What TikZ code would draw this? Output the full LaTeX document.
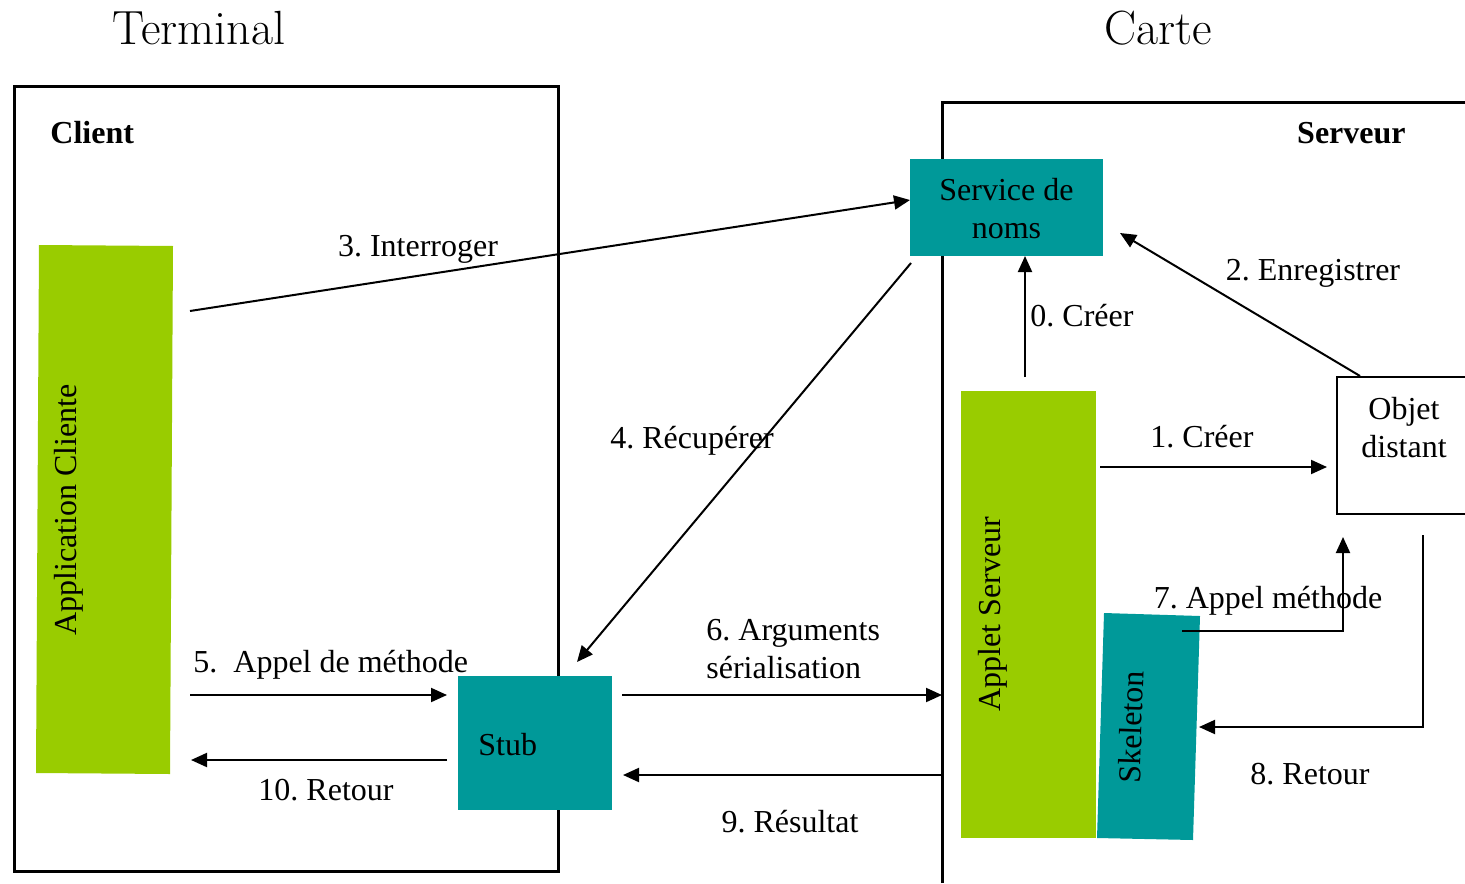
\documentclass[tikz,border=0pt]{standalone}
\usepackage{fontspec}
\setmainfont{Liberation Serif}
\newfontfamily\titlefont{Latin Modern Roman}
\usetikzlibrary{arrows.meta}
\frenchspacing
\definecolor{limegreen}{HTML}{99CC00}
\definecolor{tealbox}{HTML}{009999}
\tikzset{
  body/.style={font=\fontsize{16}{19}\selectfont, inner sep=0pt},
  hdr/.style={font=\fontsize{16}{19}\selectfont\bfseries, inner sep=0pt},
  bigtitle/.style={font=\titlefont\fontsize{24}{28}\selectfont, inner sep=0pt},
  frame/.style={line width=1.5pt},
  conn/.style={line width=1pt, -{Triangle[length=8pt,width=7pt]}},
  wire/.style={line width=1pt},
  tealrect/.style={fill=tealbox, draw=none, inner sep=0pt},
}
\begin{document}
\begin{tikzpicture}[x=0.5pt,y=-0.5pt]
\useasboundingbox (0,0) rectangle (1465,883);

% Titles
\node[bigtitle] (tterm) at (199,28) {Terminal};
\node[bigtitle] (tcarte) at (1158,28) {Carte};

% Client and server frames
\draw[frame] (14,87) rectangle (558,871);
\draw[frame] (942,883) -- (942,103) -- (1465,103);
\node[hdr, anchor=west] (client) at (50,133) {Client};
\node[hdr, anchor=east] (serveur) at (1406,133) {Serveur};

% Coloured blocks
\fill[limegreen] (39,245) -- (173,246) -- (170,774) -- (36,773) -- cycle;
\node[body, rotate=90] (appcli) at (69,510) {Application Cliente};

\node[tealrect, minimum width=96.5pt, minimum height=48.5pt] (svc) at (1006.5,207.5) {};
\node[body, align=center] (svctxt) at (1006.5,209) {Service de\\noms};

\node[tealrect, minimum width=77pt, minimum height=67pt] (stub) at (535,743) {};
\node[body, anchor=west] (stubtxt) at (478,745) {Stub};

\node[fill=limegreen, inner sep=0pt, minimum width=67.5pt,
      minimum height=223.5pt] (applet) at (1028.5,614.5) {};
\node[body, rotate=90] (applettxt) at (993,614) {Applet Serveur};

\fill[tealbox] (1104,613) -- (1200,616) -- (1193,840) -- (1097,838) -- cycle;
\node[body, rotate=88.2] (skel) at (1131,727) {Skeleton};

% Remote object box (runs past the right edge)
\draw[wire] (1465,377) -- (1337,377) -- (1337,514) -- (1465,514);
\node[body, align=center] (objet) at (1404,428) {Objet\\distant};

% Connector end points
\coordinate (p3a) at (190,311);  \coordinate (p3b) at (910,200);
\coordinate (p4a) at (911,263);  \coordinate (p4b) at (577,662);
\coordinate (p0a) at (1025,377); \coordinate (p0b) at (1025,256);
\coordinate (p2a) at (1360,376); \coordinate (p2b) at (1120,233);
\coordinate (p1a) at (1100,467); \coordinate (p1b) at (1327,467);
\coordinate (p5a) at (190,695);  \coordinate (p5b) at (447,695);
\coordinate (p10a) at (447,760); \coordinate (p10b) at (191,760);
\coordinate (p6a) at (622,695);  \coordinate (p6b) at (942,695);
\coordinate (p9a) at (942,775);  \coordinate (p9b) at (623,775);
\coordinate (p7a) at (1182,631); \coordinate (p7b) at (1343,537);
\coordinate (p8a) at (1423,535); \coordinate (p8b) at (1199,727);

% Connector labels
\node[body] (l3) at (418,249) {3. Interroger};
\node[body] (l4) at (692,441) {4. Récupérer};
\node[body, anchor=west] (l0) at (1030,316) {0. Créer};
\node[body] (l2) at (1313,273) {2. Enregistrer};
\node[body] (l1) at (1202,437) {1. Créer};
\node[body, anchor=west] (l5) at (193,665) {5.\ \ Appel de méthode};
\node[body] (l10) at (326,790) {10. Retour};
\node[body, anchor=west, align=left] (l6) at (706,649) {6. Arguments\\sérialisation};
\node[body] (l9) at (790,822) {9. Résultat};
\node[body] (l7) at (1268,601) {7. Appel méthode};
\node[body] (l8) at (1310,774) {8. Retour};

% Connectors
\draw[conn] (p3a) -- (p3b);
\draw[conn] (p4a) -- (p4b);
\draw[conn] (p0a) -- (p0b);
\draw[conn] (p2a) -- (p2b);
\draw[conn] (p1a) -- (p1b);
\draw[conn] (p5a) -- (p5b);
\draw[conn] (p10a) -- (p10b);
\draw[conn] (p6a) -- (p6b);
\draw[conn] (p9a) -- (p9b);
\draw[conn] (p7a) -| (p7b);
\draw[conn] (p8a) |- (p8b);
\end{tikzpicture}
\end{document}
